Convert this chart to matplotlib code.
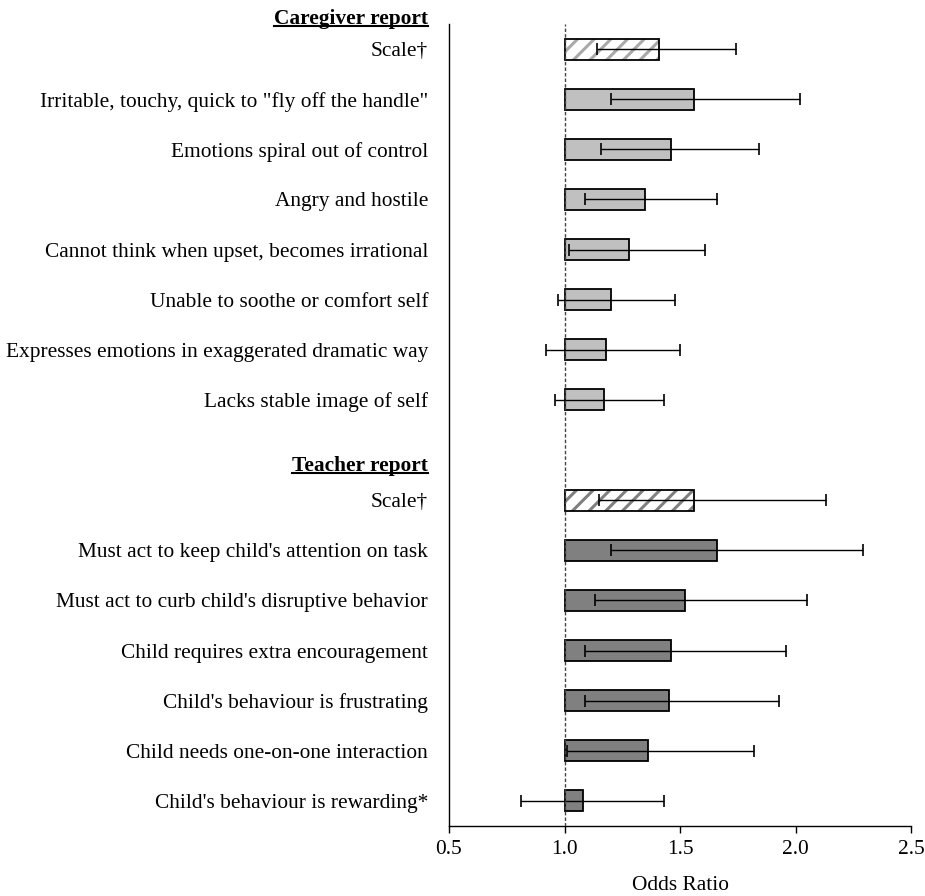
import matplotlib
matplotlib.use("Agg")
import matplotlib.pyplot as plt
from matplotlib.lines import Line2D
import numpy as np

plt.rcParams['font.family'] = ['Liberation Serif', 'DejaVu Serif']
plt.rcParams['hatch.linewidth'] = 2.2

caregiver_labels = ["Scale\u2020",
                    "Irritable, touchy, quick to \"fly off the handle\"",
                    "Emotions spiral out of control",
                    "Angry and hostile",
                    "Cannot think when upset, becomes irrational",
                    "Unable to soothe or comfort self",
                    "Expresses emotions in exaggerated dramatic way",
                    "Lacks stable image of self"]
caregiver_or = [1.41, 1.56, 1.46, 1.35, 1.28, 1.20, 1.18, 1.17]
caregiver_lo = [1.14, 1.20, 1.16, 1.09, 1.02, 0.97, 0.92, 0.96]
caregiver_hi = [1.74, 2.02, 1.84, 1.66, 1.61, 1.48, 1.50, 1.43]

teacher_labels = ["Scale\u2020",
                  "Must act to keep child's attention on task",
                  "Must act to curb child's disruptive behavior",
                  "Child requires extra encouragement",
                  "Child's behaviour is frustrating",
                  "Child needs one-on-one interaction",
                  "Child's behaviour is rewarding*"]
teacher_or = [1.56, 1.66, 1.52, 1.46, 1.45, 1.36, 1.08]
teacher_lo = [1.15, 1.20, 1.13, 1.09, 1.09, 1.01, 0.81]
teacher_hi = [2.13, 2.29, 2.05, 1.96, 1.93, 1.82, 1.43]

x_ticks = [0.5, 1.0, 1.5, 2.0, 2.5]

FS = 15.4

fig = plt.figure(figsize=(9.25, 8.96), dpi=100)
ax = fig.add_axes([0.4854, 0.0781, 0.985 - 0.4854, 0.9732 - 0.0781])

base = 1.0
h = 0.42

def draw_group(labels, ors, los, his, start, fill, hatchcol):
    ys = np.arange(len(labels)) + start
    for i, (y, o, lo, hi) in enumerate(zip(ys, ors, los, his)):
        if i == 0:
            ax.barh(y, o - base, left=base, height=h, color='white',
                    edgecolor=hatchcol, hatch='//', linewidth=0, zorder=2)
            ax.barh(y, o - base, left=base, height=h, color='none',
                    edgecolor='black', linewidth=1.3, zorder=3)
        else:
            ax.barh(y, o - base, left=base, height=h, color=fill,
                    edgecolor='black', linewidth=1.3, zorder=3)
        ax.errorbar(o, y, xerr=[[o - lo], [hi - o]], fmt='none',
                    ecolor='black', elinewidth=1.0, capsize=4,
                    capthick=1.2, zorder=4)
    return list(ys)

ys_c = draw_group(caregiver_labels, caregiver_or, caregiver_lo, caregiver_hi,
                  0, '#C0C0C0', '#AAAAAA')
ys_t = draw_group(teacher_labels, teacher_or, teacher_lo, teacher_hi,
                  len(caregiver_labels) + 1, '#808080', '#808080')

ax.axvline(1.0, color='#444444', linestyle=(0, (2.5, 1.5)), linewidth=1.0, zorder=5)

ax.set_yticks(ys_c + ys_t)
ax.set_yticklabels(caregiver_labels + teacher_labels, fontsize=FS)
ax.tick_params(axis='y', length=0, pad=15)
ax.set_ylim(len(caregiver_labels) + len(teacher_labels) + 0.5, -0.5)

ax.set_xlim(0.5, 2.5)
ax.set_xticks(x_ticks)
ax.set_xticklabels([f"{t:.1f}" for t in x_ticks], fontsize=FS)
ax.tick_params(axis='x', length=5, direction='out', width=1.0, pad=5)
ax.set_xlabel("Odds Ratio", fontsize=FS, labelpad=12)

for s in ['top', 'right']:
    ax.spines[s].set_visible(False)
for s in ['left', 'bottom']:
    ax.spines[s].set_linewidth(1.0)

from matplotlib.transforms import blended_transform_factory, offset_copy
trans = blended_transform_factory(ax.transAxes, ax.transData)
trans = offset_copy(trans, fig=fig, x=-21, y=0, units='dots')
headers = [
    ax.text(0, ys_c[0] - 0.60, 'Caregiver report', fontweight='bold',
            transform=trans, ha='right', va='center', fontsize=FS, clip_on=False),
    ax.text(0, ys_t[0] - 0.68, 'Teacher report', fontweight='bold',
            transform=trans, ha='right', va='center', fontsize=FS, clip_on=False),
]

fig.canvas.draw()
r = fig.canvas.get_renderer()
for t in headers:
    bb = t.get_window_extent(renderer=r)
    yline = bb.y0 + 3.0
    fig.add_artist(Line2D([bb.x0 / fig.bbox.width, bb.x1 / fig.bbox.width],
                          [yline / fig.bbox.height, yline / fig.bbox.height],
                          color='black', linewidth=1.5))

fig.savefig("out.png", dpi=100)
